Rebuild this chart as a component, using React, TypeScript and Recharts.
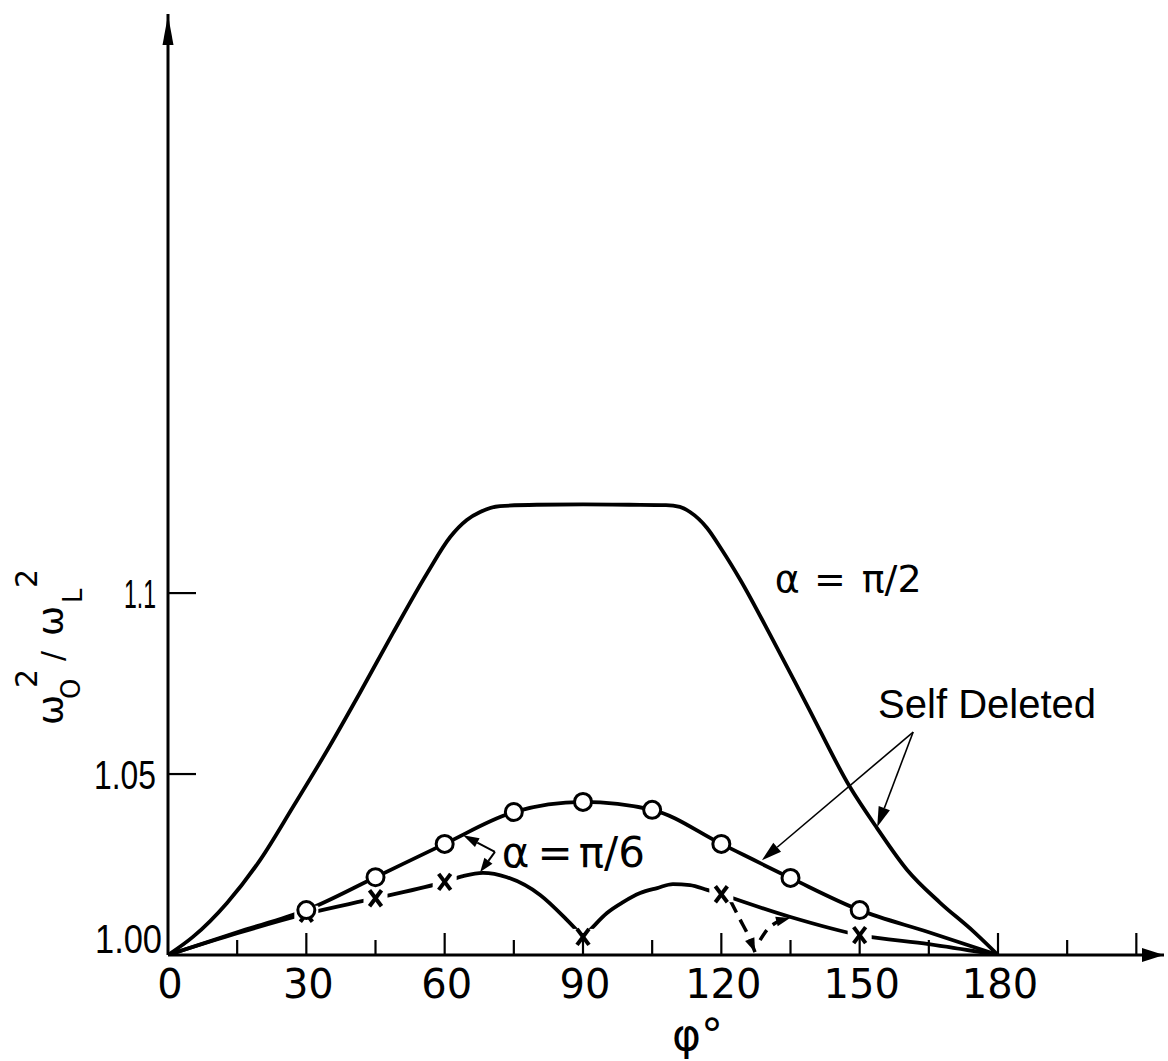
import React from 'react';
import { ComposedChart, Line, Scatter, XAxis, YAxis, ReferenceLine, ReferenceDot } from 'recharts';

type Pt = { x: number; y: number };

// alpha = pi/2 (solid, no markers)
const halfPiPhi = [0, 5.4, 12.8, 20, 27.1, 34.5, 41.6, 48.8, 56.2, 61.2, 64.8, 67.7, 72, 80, 90, 100, 108, 111, 113.2, 116.9, 120, 124.1, 131.2, 138.6, 147.9, 153.8, 160.3, 167.4, 174.6, 180];
const halfPiVals = [1.0, 1.005, 1.0144, 1.0263, 1.0409, 1.0565, 1.0724, 1.089, 1.1055, 1.1155, 1.1202, 1.1224, 1.124, 1.1244, 1.1245, 1.1244, 1.1243, 1.1238, 1.1224, 1.118, 1.1122, 1.1037, 1.087, 1.069, 1.0464, 1.035, 1.0235, 1.0145, 1.0066, 1.0];

// alpha = pi/6, self deleted (open circles)
const sdPhi = [0, 15, 30, 45, 60, 75, 90, 105, 120, 135, 150, 165, 180];
const sdVals = [1.0, 1.0063, 1.0124, 1.0215, 1.0307, 1.0395, 1.0423, 1.0401, 1.0307, 1.0213, 1.0124, 1.0063, 1.0];
const sdMarkPhi = [30, 45, 60, 75, 90, 105, 120, 135, 150];

// alpha = pi/6 (crosses), three branches joined at the cusps
const crossAPhi = [0, 15, 30, 45, 60, 64, 68.3, 73.5, 80.7, 86.5, 90];
const crossAVals = [1.0, 1.006, 1.0114, 1.0157, 1.0202, 1.0218, 1.0227, 1.0215, 1.0166, 1.0097, 1.005];
const crossBPhi = [90, 91.5, 95.2, 98.7, 102.4, 106.1, 109.5, 113.2, 116.9, 120];
const crossBVals = [1.005, 1.0069, 1.0116, 1.0146, 1.0171, 1.0185, 1.0196, 1.0193, 1.018, 1.0168];
const crossCPhi = [120, 135, 150, 165, 180];
const crossCVals = [1.0168, 1.0105, 1.0055, 1.003, 1.0];
const crossMarkPhi = [30, 45, 60, 90, 120, 150];
const crossMarkVals = [1.0114, 1.0157, 1.0202, 1.005, 1.0168, 1.0055];

// dashed branch below 120 degrees
const dashDownPhi = [121.9, 124.1, 125.8, 127.3];
const dashDownVals = [1.0152, 1.0097, 1.0055, 1.0008];
const dashUpPhi = [128.4, 129.9, 132.1, 134.9];
const dashUpVals = [1.0041, 1.0069, 1.0091, 1.0102];

const xTicks = [0, 15, 30, 45, 60, 75, 90, 105, 120, 135, 150, 165, 180, 195, 210];
const yTicks = [1.0, 1.05, 1.1];
const yTickLabels = ['1.00', '1.05', '1.1'];

const zip = (xs: number[], ys: number[]): Pt[] => xs.map((x, i) => ({ x, y: ys[i] }));
const pick = (xs: number[], all: Pt[]): Pt[] => all.filter((p) => xs.includes(p.x));

const halfPi = zip(halfPiPhi, halfPiVals);
const selfDeleted = zip(sdPhi, sdVals);
const selfDeletedMarks = pick(sdMarkPhi, selfDeleted);
const crossA = zip(crossAPhi, crossAVals);
const crossB = zip(crossBPhi, crossBVals);
const crossC = zip(crossCPhi, crossCVals);
const crossMarks = zip(crossMarkPhi, crossMarkVals);
const dashDown = zip(dashDownPhi, dashDownVals);
const dashUp = zip(dashUpPhi, dashUpVals);

const INK = '#000';
const NUM_FONT = 'DejaVu Sans, sans-serif';
const TEXT_FONT = '"Liberation Sans", Arial, sans-serif';

const PhiTick = (props: any) => {
  const { x, y, payload } = props;
  const v = payload.value as number;
  const major = v % 30 === 0;
  return (
    <g>
      {v > 0 && <line x1={x} y1={y} x2={x} y2={y - (major ? 22 : 15)} stroke={INK} strokeWidth={2.2} />}
      {major && v <= 180 && (
        <text x={x + 2} y={y + 43} textAnchor="middle" fontSize={40} fontFamily={NUM_FONT} fill={INK}>
          {v}
        </text>
      )}
    </g>
  );
};

// the y labels are set narrow, so squeeze them to their printed widths
const yLabelWidths = [67, 62, 32];

const RatioTick = (props: any) => {
  const { x, y, payload } = props;
  const i = yTicks.indexOf(payload.value);
  const base = i === 0;
  const right = x - (base ? 6 : 12);
  const w = yLabelWidths[i];
  return (
    <g>
      {!base && <line x1={x} y1={y} x2={x + 28} y2={y} stroke={INK} strokeWidth={2.2} />}
      <text
        x={right - w}
        y={base ? y - 2 : y + 15}
        fontSize={41}
        fontFamily={TEXT_FONT}
        fill={INK}
        textLength={w}
        lengthAdjust="spacingAndGlyphs"
      >
        {yTickLabels[i]}
      </text>
    </g>
  );
};

// rotated omega_0^2 / omega_L^2
const RatioLabel = () => (
  <g transform="translate(63,725) rotate(-90)" fill={INK} fontFamily={NUM_FONT}>
    <text x={0} y={0} fontSize={36}>ω</text>
    <text x={26} y={17} fontSize={26}>O</text>
    <text x={37} y={-26} fontSize={30}>2</text>
    <text x={64} y={0} fontSize={30}>/</text>
    <text x={89} y={0} fontSize={36}>ω</text>
    <text x={122} y={19} fontSize={26}>L</text>
    <text x={137} y={-26} fontSize={30}>2</text>
  </g>
);

const PhiLabel = (props: any) => {
  const vb = props.viewBox || { x: 168, y: 955 };
  return (
    <text x={vb.x + 504} y={vb.y + 95} fontSize={44} fontFamily={NUM_FONT} fill={INK}>
      φ°
    </text>
  );
};

const OpenCircle = (props: any) => (
  <circle cx={props.cx} cy={props.cy} r={8.5} fill="#fff" stroke={INK} strokeWidth={3} />
);

const CrossMark = (props: any) => {
  const { cx, cy } = props;
  return (
    <g>
      <rect x={cx - 12} y={cy - 8} width={24} height={16} fill="#fff" />
      <line x1={cx - 6} y1={cy - 8} x2={cx + 6} y2={cy + 8} stroke={INK} strokeWidth={4} />
      <line x1={cx + 6} y1={cy - 8} x2={cx - 6} y2={cy + 8} stroke={INK} strokeWidth={4} />
    </g>
  );
};

const arrow = (o: { width?: number; head: number; half: number; line?: boolean }) => (p: any) => {
  const { x1, y1, x2, y2 } = p;
  const a = Math.atan2(y2 - y1, x2 - x1);
  const bx = x2 - o.head * Math.cos(a);
  const by = y2 - o.head * Math.sin(a);
  const nx = -Math.sin(a) * o.half;
  const ny = Math.cos(a) * o.half;
  return (
    <g>
      {o.line !== false && <line x1={x1} y1={y1} x2={bx} y2={by} stroke={INK} strokeWidth={o.width ?? 1.6} />}
      <polygon points={`${x2},${y2} ${bx + nx},${by + ny} ${bx - nx},${by - ny}`} fill={INK} />
    </g>
  );
};

const note = (render: (x: number, y: number) => React.ReactElement) => (p: any) => render(p.cx, p.cy);

const curve = { type: 'monotone' as const, stroke: INK, dot: false, activeDot: false, isAnimationActive: false, dataKey: 'y' };

export default function App() {
  return (
    <div style={{ position: 'absolute', left: 0, top: 0, background: '#fff' }}>
      <ComposedChart width={1168} height={1061} margin={{ top: 14, right: 4, bottom: 76, left: 108 }}>
        <XAxis
          type="number"
          dataKey="x"
          domain={[0, 216]}
          ticks={xTicks}
          interval={0}
          tick={<PhiTick />}
          tickSize={0}
          tickMargin={0}
          tickLine={false}
          height={30}
          axisLine={{ stroke: INK, strokeWidth: 3 }}
          allowDataOverflow
          label={<PhiLabel />}
        />
        <YAxis
          type="number"
          dataKey="y"
          domain={[1, 1.26]}
          ticks={yTicks}
          interval={0}
          tick={<RatioTick />}
          tickSize={0}
          tickMargin={0}
          tickLine={false}
          width={60}
          axisLine={{ stroke: INK, strokeWidth: 3 }}
          allowDataOverflow
          label={<RatioLabel />}
        />

        <Line data={halfPi} {...curve} strokeWidth={3.8} />
        <Line data={crossA} {...curve} strokeWidth={3.8} />
        <Line data={crossB} {...curve} strokeWidth={3.8} />
        <Line data={crossC} {...curve} strokeWidth={3.8} />
        <Line data={dashDown} {...curve} strokeWidth={3.5} strokeDasharray="14 8" />
        <Line data={dashUp} {...curve} strokeWidth={3.5} strokeDasharray="12 8" />
        <Scatter data={crossMarks} shape={<CrossMark />} isAnimationActive={false} />
        <Line data={selfDeleted} {...curve} strokeWidth={3.8} />
        <Scatter data={selfDeletedMarks} shape={<OpenCircle />} isAnimationActive={false} />

        {/* axis arrowheads */}
        <ReferenceLine segment={[{ x: 0, y: 1.25 }, { x: 0, y: 1.2597 }]} ifOverflow="visible" shape={arrow({ head: 30, half: 5.5, line: false })} />
        <ReferenceLine segment={[{ x: 210, y: 1 }, { x: 216, y: 1 }]} ifOverflow="visible" shape={arrow({ head: 22, half: 7, line: false })} />

        {/* arrowheads on the dashed branch */}
        <ReferenceLine segment={[{ x: 126.6, y: 1.003 }, { x: 127.3, y: 1.0008 }]} ifOverflow="visible" shape={arrow({ head: 14, half: 5, line: false })} />
        <ReferenceLine segment={[{ x: 132.1, y: 1.0093 }, { x: 134.9, y: 1.0102 }]} ifOverflow="visible" shape={arrow({ head: 14, half: 5, line: false })} />

        {/* Self Deleted pointers */}
        <ReferenceLine segment={[{ x: 161.6, y: 1.0616 }, { x: 128.8, y: 1.0262 }]} ifOverflow="visible" shape={arrow({ head: 20, half: 6 })} />
        <ReferenceLine segment={[{ x: 161.6, y: 1.0616 }, { x: 153.8, y: 1.0354 }]} ifOverflow="visible" shape={arrow({ head: 20, half: 6 })} />

        {/* alpha = pi/6 pointers */}
        <ReferenceLine segment={[{ x: 70.9, y: 1.0285 }, { x: 64.0, y: 1.0331 }]} ifOverflow="visible" shape={arrow({ width: 2, head: 16, half: 5 })} />
        <ReferenceLine segment={[{ x: 70.9, y: 1.0285 }, { x: 67.7, y: 1.0229 }]} ifOverflow="visible" shape={arrow({ width: 2, head: 14, half: 5 })} />

        <ReferenceDot
          x={131.6}
          y={1.1003}
          ifOverflow="visible"
          shape={note((x, y) => (
            <text x={x} y={y} fontSize={38} fontFamily={NUM_FONT} fill={INK}>
              <tspan>α</tspan>
              <tspan dx={14}>=</tspan>
              <tspan dx={16}>π/2</tspan>
            </text>
          ))}
        />
        <ReferenceDot
          x={154.0}
          y={1.0655}
          ifOverflow="visible"
          shape={note((x, y) => (
            <text x={x} y={y} fontSize={40} fontFamily={TEXT_FONT} fill={INK}>
              Self Deleted
            </text>
          ))}
        />
        <ReferenceDot
          x={72.4}
          y={1.0243}
          ifOverflow="visible"
          shape={note((x, y) => (
            <text x={x} y={y} fontSize={42} fontFamily={NUM_FONT} fill={INK}>
              <tspan>α</tspan>
              <tspan dx={8}>=</tspan>
              <tspan dx={6}>π/6</tspan>
            </text>
          ))}
        />
      </ComposedChart>
    </div>
  );
}
